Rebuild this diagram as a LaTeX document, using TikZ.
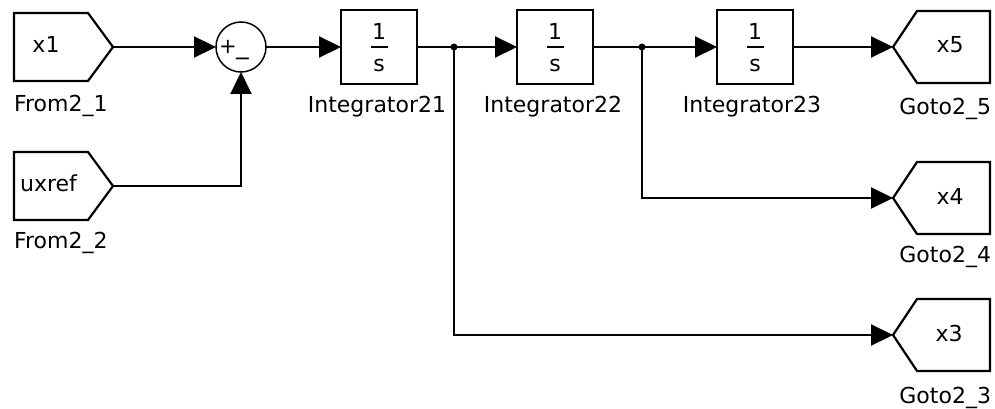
\documentclass[tikz,border=0pt]{standalone}
\usepackage{fontspec}
\setmainfont{DejaVu Sans}
\usetikzlibrary{arrows.meta,calc}
\begin{document}
\begin{tikzpicture}[x=1pt,y=-1pt,
  every node/.style={font=\fontsize{22}{26}\selectfont, inner sep=0pt, outer sep=0pt},
  intblk/.style={draw, line width=2.4pt, minimum width=76pt, minimum height=74pt},
  srcblk/.style={minimum width=99pt, minimum height=68pt},
  dstblk/.style={minimum width=97pt, minimum height=72pt},
  outline/.style={line width=2.2pt, line join=miter},
  sumblk/.style={draw, circle, line width=1.5pt, minimum size=50pt},
  wire/.style={line width=2.2pt},
  sig/.style={wire, -{Triangle[length=22pt,width=21pt]}},
  lbl/.style={anchor=base},
  sign/.style={font=\fontsize{21}{24}\selectfont},
  junction/.style={circle, fill, minimum size=7pt}
]
\useasboundingbox (0,0) rectangle (995,409);

% source (From) blocks
\node[srcblk] (f1) at (63.5,47) {};
\node[srcblk] (f2) at (63.5,186) {};
\foreach \b in {f1,f2}
  \draw[outline] (\b.north west) -- ([xshift=-25pt]\b.north east) -- (\b.east)
    -- ([xshift=-25pt]\b.south east) -- (\b.south west) -- cycle;
\node[lbl] (f1t) at (46,53) {x1};
\node[lbl] (f2t) at (48.5,191) {uxref};
\node[anchor=base west] (f1l) at (14,112) {From2\_1};
\node[anchor=base west] (f2l) at (14,248) {From2\_2};

% sum junction
\node[sumblk] (sum) at (241,47) {};
\node[sign] (plus) at (228,47) {+};
\node[sign] (minus) at (242.5,62) {−};

% integrators
\node[intblk] (int21) at (379,47) {};
\node[intblk] (int22) at (555,47) {};
\node[intblk] (int23) at (755,47) {};
\foreach \n in {int21,int22,int23}{
  \node[lbl] (\n-num) at ([yshift=7pt]\n.center) {1};
  \node[lbl] (\n-den) at ([yshift=-24.5pt]\n.center) {s};
  \draw[line width=1.6pt] ([xshift=-8.5pt]\n.center) -- ([xshift=8.5pt]\n.center);
}
\node[lbl] (int21l) at (377,113) {Integrator21};
\node[lbl] (int22l) at (553,113) {Integrator22};
\node[lbl] (int23l) at (752,113) {Integrator23};

% destination (Goto) blocks
\node[dstblk] (g5) at (941.5,47) {};
\node[dstblk] (g4) at (941.5,198) {};
\node[dstblk] (g3) at (941.5,335) {};
\foreach \b in {g5,g4,g3}
  \draw[outline] (\b.west) -- ([xshift=24pt]\b.north west) -- (\b.north east)
    -- (\b.south east) -- ([xshift=24pt]\b.south west) -- cycle;
\node[lbl] (g5t) at (950,53) {x5};
\node[lbl] (g4t) at (950,204) {x4};
\node[lbl] (g3t) at (949,341) {x3};
\node[anchor=base east] (g5l) at (991,114) {Goto2\_5};
\node[anchor=base east] (g4l) at (991,262) {Goto2\_4};
\node[anchor=base east] (g3l) at (991,403) {Goto2\_3};

% branch points
\node[junction] (b1) at (454,47) {};
\node[junction] (b2) at (642,47) {};

% signal lines
\draw[sig] (f1.east) -- (sum.west);
\draw[sig] (f2.east) -| (sum.south);
\draw[sig] (sum.east) -- (int21.west);
\draw[sig] (int21.east) -- (int22.west);
\draw[sig] (int22.east) -- (int23.west);
\draw[sig] (int23.east) -- (g5.west);
\draw[sig] (b1.center) |- (g3.west);
\draw[sig] (b2.center) |- (g4.west);
\end{tikzpicture}
\end{document}
